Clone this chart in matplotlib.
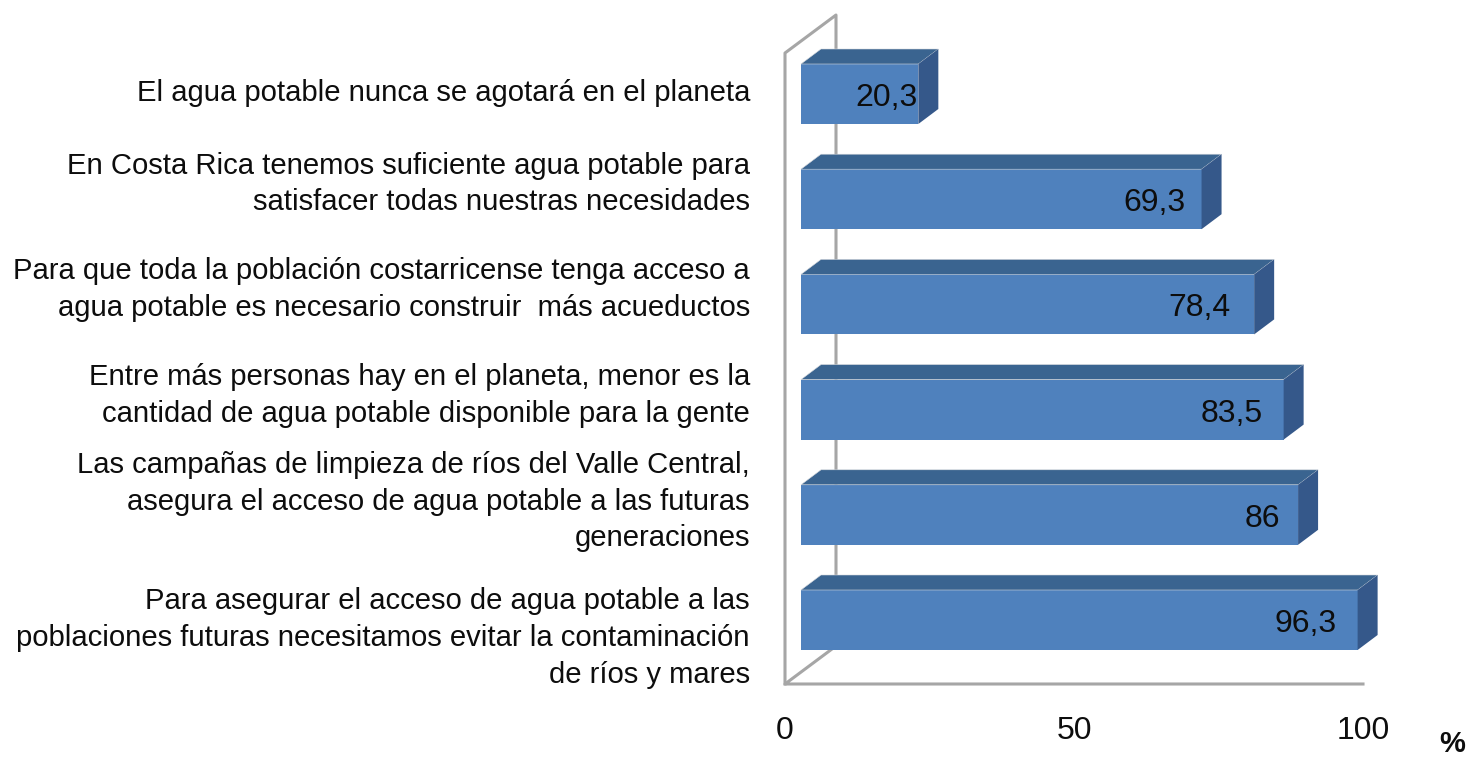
import matplotlib
matplotlib.use('Agg')
import matplotlib.pyplot as plt
from matplotlib.patches import Polygon

plt.rcParams['font.family'] = ['Liberation Sans', 'DejaVu Sans']

etiquetas = [
    'El agua potable nunca se agotará en el planeta',
    'En Costa Rica tenemos suficiente agua potable para\nsatisfacer todas nuestras necesidades',
    'Para que toda la población costarricense tenga acceso a\nagua potable es necesario construir  más acueductos',
    'Entre más personas hay en el planeta, menor es la\ncantidad de agua potable disponible para la gente',
    'Las campañas de limpieza de ríos del Valle Central,\nasegura el acceso de agua potable a las futuras\ngeneraciones',
    'Para asegurar el acceso de agua potable a las\npoblaciones futuras necesitamos evitar la contaminación\nde ríos y mares',
]
valores = [20.3, 69.3, 78.4, 83.5, 86, 96.3]
textos = ['20,3', '69,3', '78,4', '83,5', '86', '96,3']
marcas = [0, 50, 100]

# escala en pixeles de la figura
W, H = 1468, 757
PX_X = 5.78
PX_Y = 105.2
px = lambda v: v / PX_X
py = lambda v: v / PX_Y

fig = plt.figure(figsize=(W / 100, H / 100), dpi=100)
ax = fig.add_axes([0, 0, 1, 1])
ax.set_xlim(-785 / PX_X, (W - 785) / PX_X)
ax.set_ylim((H - 94) / PX_Y, -94 / PX_Y)
ax.axis('off')

gris = '#a6a6a6'
y_piso = py(684 - 94)
y_techo = py(53 - 94)
dx, dy = px(51), py(38)

# paredes
ax.plot([0, 0, dx, dx], [y_piso, y_techo, y_techo - dy, y_piso - dy], color=gris, lw=2.2, zorder=1)
ax.plot([100, 0, dx], [y_piso, y_piso, y_piso - dy], color=gris, lw=2.2, zorder=1)

# barras
x0 = px(16)
alto = py(60)
prof_x, prof_y = px(20), py(15)
ajuste_txt = [1, 16, 24, 21, 18, 21]
ajuste_etq = [-1, -15, -15, -14, -13, 18]

for i, v in enumerate(valores):
    ax.barh(i, v, left=x0, height=alto, color='#4f81bd', zorder=2)
    fin = x0 + v
    arriba = i - alto / 2
    abajo = i + alto / 2
    ax.add_patch(Polygon([(x0, arriba), (x0 + prof_x, arriba - prof_y), (fin + prof_x, arriba - prof_y), (fin, arriba)],
                         facecolor='#3a6490', edgecolor='#d5d8dc', lw=0.4, zorder=2))
    ax.add_patch(Polygon([(fin, arriba), (fin + prof_x, arriba - prof_y), (fin + prof_x, abajo - prof_y), (fin, abajo)],
                         facecolor='#35588a', edgecolor='none', zorder=2))
    ax.text(fin - px(ajuste_txt[i]), i + py(4), textos[i], ha='right', va='center', fontsize=23, color='#0d0d0d', zorder=3)
    ax.text(px(750 - 785), i + py(ajuste_etq[i]), etiquetas[i], ha='right', va='center', fontsize=21.1,
            linespacing=1.39, color='#0d0d0d')

# eje x
for m in marcas:
    ax.text(m, py(731 - 94), str(m), ha='center', va='center', fontsize=23, color='#0d0d0d')
ax.text(px(1452 - 785), py(744 - 94), '%', ha='center', va='center', fontsize=21, fontweight='bold', color='#0d0d0d')

fig.savefig('out.png', dpi=100)
